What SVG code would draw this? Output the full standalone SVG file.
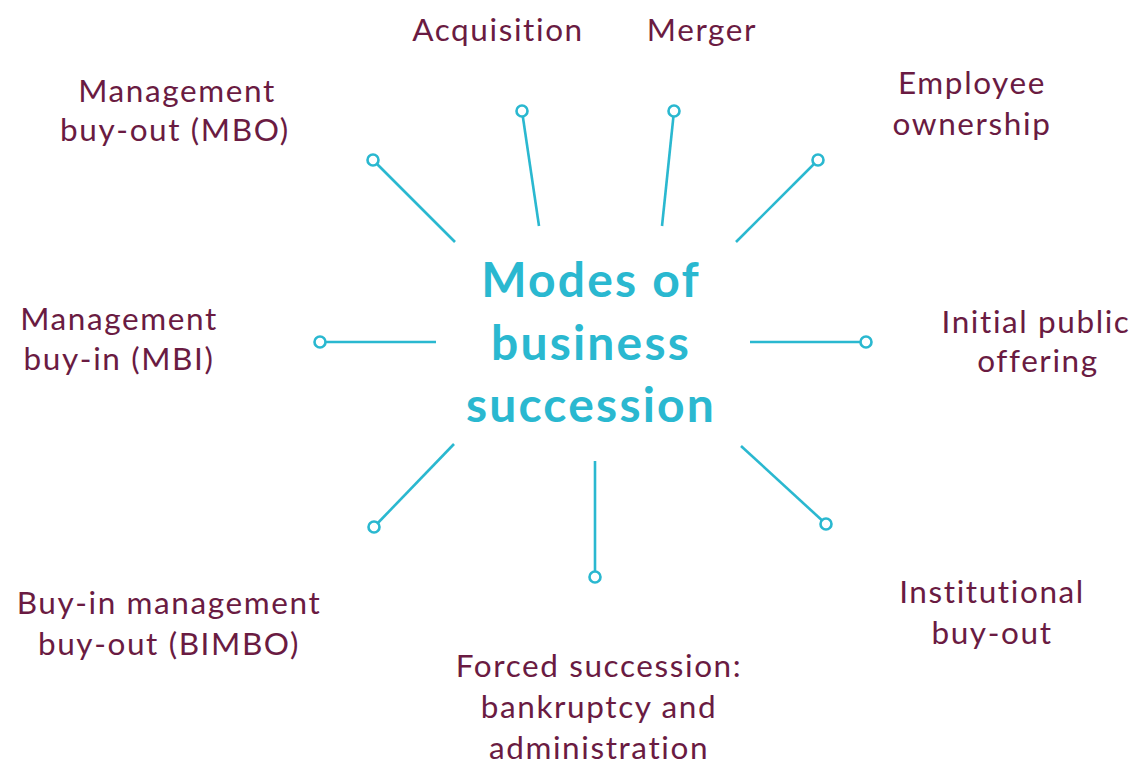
<svg xmlns="http://www.w3.org/2000/svg" width="1133" height="765" viewBox="0 0 1133 765">
<style>
.lbl{font-family:"Lato","Liberation Sans",sans-serif;font-size:31.5px;fill:#6a1b42;text-anchor:middle;letter-spacing:1.6px}
.ttl{font-family:"Lato","Liberation Sans",sans-serif;font-size:48px;font-weight:bold;fill:#2ab8d0;text-anchor:middle;letter-spacing:2.2px}
.ln{stroke:#2ab8d0;stroke-width:2.6;fill:none}
.dot{stroke:#2ab8d0;stroke-width:2.6;fill:#fff}
</style>
<rect width="1133" height="765" fill="#fff"/>
<g id="connectors">
<line class="ln" x1="455" y1="242" x2="373" y2="160"/>
<line class="ln" x1="539" y1="226" x2="522" y2="111"/>
<line class="ln" x1="662" y1="226" x2="674" y2="111"/>
<line class="ln" x1="736" y1="242" x2="818" y2="160"/>
<line class="ln" x1="436" y1="342" x2="320" y2="342"/>
<line class="ln" x1="750" y1="342" x2="866" y2="342"/>
<line class="ln" x1="454" y1="444" x2="374" y2="527"/>
<line class="ln" x1="595" y1="461" x2="595" y2="577"/>
<line class="ln" x1="741" y1="446" x2="826" y2="524"/>
<circle class="dot" cx="373" cy="160" r="5.5"/>
<circle class="dot" cx="522" cy="111" r="5.5"/>
<circle class="dot" cx="674" cy="111" r="5.5"/>
<circle class="dot" cx="818" cy="160" r="5.5"/>
<circle class="dot" cx="320" cy="342" r="5.5"/>
<circle class="dot" cx="866" cy="342" r="5.5"/>
<circle class="dot" cx="374" cy="527" r="5.5"/>
<circle class="dot" cx="595" cy="577" r="5.5"/>
<circle class="dot" cx="826" cy="524" r="5.5"/>
</g>
<g id="center"><text class="ttl"><tspan x="591" y="297">Modes of</tspan><tspan x="591" y="360">business</tspan><tspan x="591" y="422">succession</tspan></text></g>
<g id="acquisition"><text class="lbl" x="498" y="41">Acquisition</text></g>
<g id="merger"><text class="lbl" x="702" y="41">Merger</text></g>
<g id="mbo"><text class="lbl"><tspan x="177" y="102">Management</tspan><tspan x="175" y="141">buy-out (MBO)</tspan></text></g>
<g id="employee"><text class="lbl"><tspan x="972" y="94">Employee</tspan><tspan x="972" y="135">ownership</tspan></text></g>
<g id="mbi"><text class="lbl"><tspan x="119" y="330">Management</tspan><tspan x="119" y="370">buy-in (MBI)</tspan></text></g>
<g id="ipo"><text class="lbl"><tspan x="1036" y="333">Initial public</tspan><tspan x="1038" y="372">offering</tspan></text></g>
<g id="bimbo"><text class="lbl"><tspan x="169" y="614">Buy-in management</tspan><tspan x="169" y="655">buy-out (BIMBO)</tspan></text></g>
<g id="forced"><text class="lbl"><tspan x="599" y="677">Forced succession:</tspan><tspan x="599" y="718">bankruptcy and</tspan><tspan x="599" y="759">administration</tspan></text></g>
<g id="institutional"><text class="lbl"><tspan x="992" y="603">Institutional</tspan><tspan x="992" y="644">buy-out</tspan></text></g>
</svg>
